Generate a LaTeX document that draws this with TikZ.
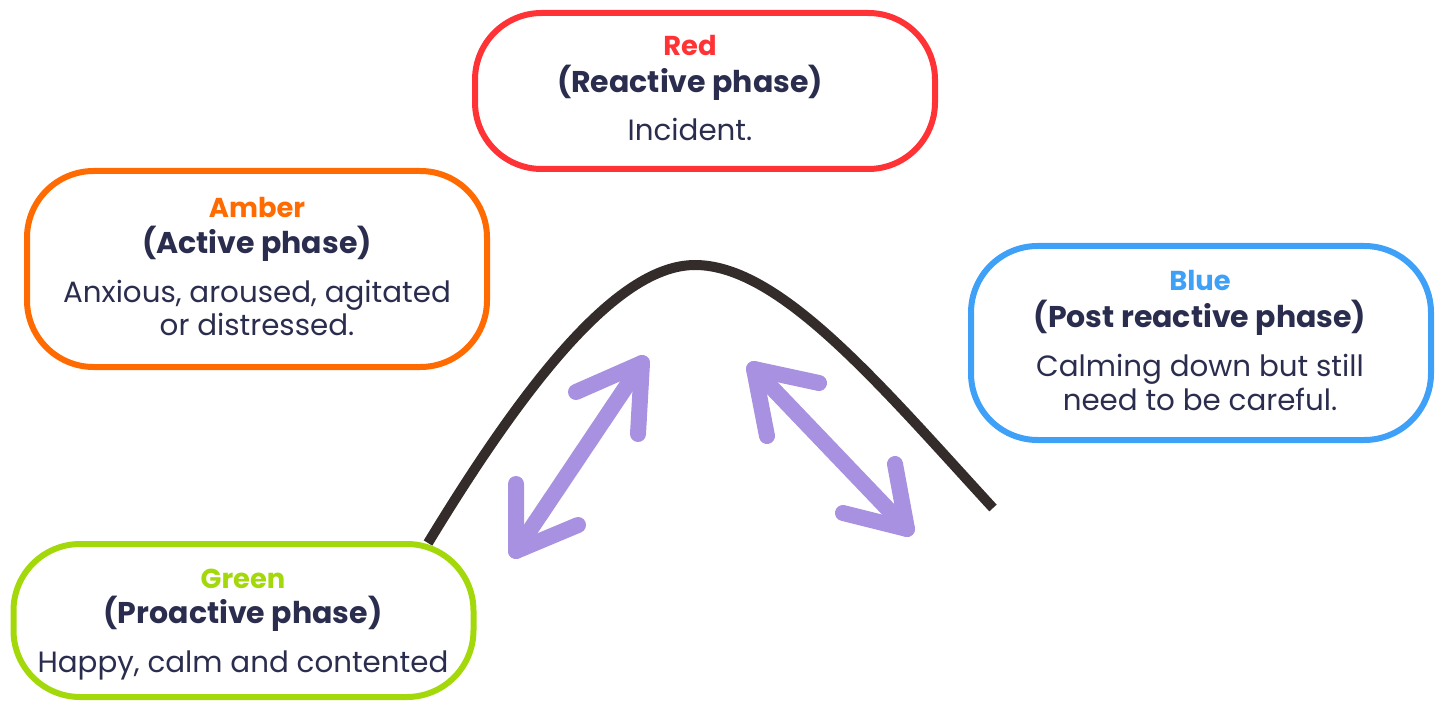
\documentclass[tikz,border=0pt]{standalone}
\usepackage{fontspec}
\setmainfont{Poppins}
\definecolor{cred}{HTML}{FF3336}
\definecolor{camber}{HTML}{FF6B00}
\definecolor{cblue}{HTML}{3FA0F7}
\definecolor{cgreen}{HTML}{A3D80A}
\definecolor{ctext}{HTML}{2B2D4E}
\definecolor{ccurve}{HTML}{332C2B}
\definecolor{clav}{HTML}{A791E0}
\begin{document}
\begin{tikzpicture}[x=0.75pt,y=-0.75pt,
  phasebox/.style={draw=#1, line width=4.5pt, rounded corners=50pt, minimum width=345pt, inner sep=0pt},
  title/.style={anchor=base, font=\fontsize{20.5}{24}\selectfont\bfseries, text=#1},
  phase/.style={anchor=base, font=\fontsize{22.5}{26}\selectfont\bfseries, text=ctext},
  body/.style={anchor=base, font=\fontsize{22}{26}\selectfont, text=ctext},
  twoway/.style={draw=clav, line width=12pt, line cap=round, line join=round},
  hill/.style={draw=ccurve, line width=7.5pt}]
\useasboundingbox (0,0) rectangle (1442,702);
% hill curve
\coordinate (hl) at (428,543);
\coordinate (hp) at (695,265);
\coordinate (hr) at (993,508);
\draw[hill] (hl) .. controls (530,375) and (620,265) .. (hp)
                 .. controls (780,265) and (880,385) .. (hr);
% boxes
\node[phasebox=cred, minimum height=117pt] (red) at (705,91) {};
\node[phasebox=camber, minimum height=147pt] (amber) at (257,269) {};
\node[phasebox=cblue, minimum height=145.5pt] (blue) at (1201,343) {};
\node[phasebox=cgreen, minimum height=114.75pt] (green) at (243.5,620.5) {};
% red text
\node[title=cred] (redt) at (690,56) {Red};
\node[phase] (redp) at (690,93) {(Reactive phase)};
\node[body] (redb) at (690,141) {Incident.};
% amber text
\node[title=camber] (ambert) at (257,218) {Amber};
\node[phase] (amberp) at (257,254) {(Active phase)};
\node[body] (amberb1) at (257,303) {Anxious, aroused, agitated};
\node[body] (amberb2) at (257,335) {or distressed.};
% blue text
\node[title=cblue] (bluet) at (1200,291) {Blue};
\node[phase] (bluep) at (1200,328) {(Post reactive phase)};
\node[body] (blueb1) at (1200,376) {Calming down but still};
\node[body] (blueb2) at (1200,410) {need to be careful.};
% green text
\node[title=cgreen] (greent) at (243,588) {Green};
\node[phase] (greenp) at (243,623) {(Proactive phase)};
\node[body] (greenb) at (243,672) {Happy, calm and contented};
% left two-way arrow
\coordinate (la1) at (642,363);
\coordinate (la1a) at (576,392);
\coordinate (la1b) at (638,434);
\coordinate (la2) at (516,551);
\coordinate (la2a) at (516,484);
\coordinate (la2b) at (578,525);
\draw[twoway] (la1) -- (la2);
\draw[twoway] (la1a) -- (la1) -- (la1b);
\draw[twoway] (la2a) -- (la2) -- (la2b);
% right two-way arrow
\coordinate (ra1) at (754,369);
\coordinate (ra1a) at (819,383);
\coordinate (ra1b) at (767,436);
\coordinate (ra2) at (907,529);
\coordinate (ra2a) at (895,464);
\coordinate (ra2b) at (843,513);
\draw[twoway] (ra1) -- (ra2);
\draw[twoway] (ra1a) -- (ra1) -- (ra1b);
\draw[twoway] (ra2a) -- (ra2) -- (ra2b);
\end{tikzpicture}
\end{document}
